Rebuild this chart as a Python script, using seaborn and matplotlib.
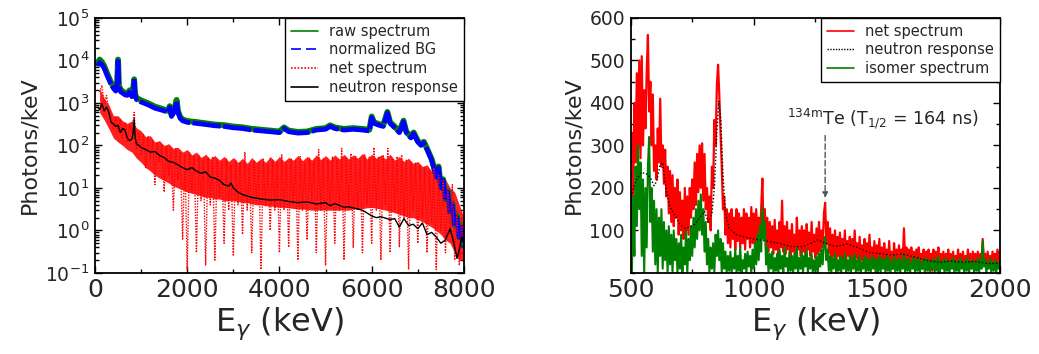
import numpy as np
import matplotlib
matplotlib.use("Agg")
import matplotlib.pyplot as plt
from matplotlib.lines import Line2D
from matplotlib.ticker import MultipleLocator, LogLocator, NullFormatter
import seaborn as sns

# ---- left panel: full spectrum (log scale) ----
bg_e = [60, 100, 150, 200, 250, 300, 350, 400, 450, 480,
        500, 520, 560, 600, 650, 700, 750, 800, 830, 850,
        870, 900, 1000, 1100, 1200, 1300, 1400, 1500, 1580, 1620,
        1660, 1720, 1770, 1800, 1850, 1900, 2000, 2200, 2400, 2600,
        2800, 3000, 3200, 3400, 3600, 3800, 4000, 4100, 4200, 4400,
        4600, 4800, 5000, 5100, 5200, 5400, 5600, 5800, 5950, 6000,
        6050, 6150, 6250, 6340, 6400, 6500, 6600, 6690, 6750, 6850,
        6910, 7000, 7070, 7130, 7200, 7300, 7400, 7450, 7500, 7550,
        7600, 7650, 7700, 7750, 7800, 7850, 7900, 7950, 8000]
bg_l = [7500, 9000, 8000, 6500, 4800, 3600, 2700, 2200, 1900, 2600,
        9500, 2300, 1800, 1700, 1550, 1500, 1800, 1400, 2000, 3300,
        1500, 1200, 1050, 950, 850, 750, 700, 650, 600, 780,
        480, 620, 1100, 600, 430, 380, 350, 330, 310, 290,
        280, 260, 250, 230, 220, 210, 200, 250, 210, 195,
        200, 230, 240, 280, 250, 230, 240, 230, 220, 450,
        330, 300, 280, 580, 330, 260, 200, 360, 200, 150,
        190, 120, 100, 115, 80, 45, 18, 30, 10, 15,
        5, 8, 2.5, 4, 1.2, 2, 0.6, 1.2, 0.4]
raw_l = [8500, 10500, 9200, 7400, 5400, 4000, 3000, 2450, 2100, 2850,
         10500, 2550, 2000, 1880, 1700, 1650, 1980, 1540, 2200, 3600,
         1650, 1320, 1150, 1040, 930, 820, 760, 700, 650, 840,
         520, 670, 1180, 650, 460, 410, 375, 355, 332, 310,
         300, 278, 267, 246, 235, 224, 213, 266, 224, 208,
         213, 245, 256, 298, 266, 245, 256, 245, 234, 480,
         352, 320, 298, 615, 352, 277, 213, 383, 213, 160,
         202, 128, 107, 122, 85, 48, 19.5, 32, 11, 16,
         5.5, 8.6, 2.8, 4.3, 1.35, 2.2, 0.7, 1.3, 0.45]

# net spectrum: channel values (with the deep dips) ...
net_e = np.arange(100, 8001, 50)
net_l = [1800, 2600, 900, 1500, 700, 500, 250, 450, 200, 400,
         150, 350, 120, 300, 200, 600, 80, 200, 60, 180,
         30, 160, 50, 130, 12, 120, 40, 100, 8, 90,
         20, 80, 3, 90, 15, 70, 0.6, 60, 0.12, 70,
         8, 55, 0.3, 60, 5, 45, 0.15, 50, 4, 55,
         0.2, 45, 6, 40, 0.5, 50, 3, 35, 0.25, 45,
         4, 40, 0.8, 70, 3, 35, 0.3, 45, 5, 40,
         0.12, 50, 4, 35, 1, 45, 3, 40, 0.3, 60,
         3, 40, 0.4, 50, 4, 45, 0.2, 55, 3, 40,
         0.6, 50, 5, 45, 0.3, 80, 3, 50, 0.15, 45,
         4, 55, 0.5, 45, 3, 85, 0.2, 50, 4, 65,
         0.4, 55, 3, 50, 0.3, 60, 4, 55, 0.5, 90,
         3, 55, 0.2, 60, 4, 85, 0.3, 50, 3, 55,
         0.4, 60, 2, 45, 0.12, 40, 3, 40, 0.5, 35,
         2, 30, 0.3, 25, 1.5, 30, 0.12, 20, 1, 15,
         0.3, 10, 0.8, 12, 0.2, 3, 0.15, 2, 0.4]
# ... and the dense band it fills (upper / lower envelope)
band_e = np.arange(100, 8001, 100)
band_hi = [2200, 1300, 900, 500, 500, 380, 330, 380, 260, 220,
           160, 170, 120, 130, 100, 110, 85, 90, 70, 80,
           60, 70, 52, 62, 48, 58, 45, 55, 42, 52,
           40, 50, 38, 52, 40, 50, 40, 55, 42, 55,
           42, 52, 45, 58, 44, 55, 45, 60, 46, 58,
           45, 60, 48, 62, 48, 60, 50, 65, 48, 62,
           50, 60, 48, 62, 45, 55, 42, 50, 38, 42,
           32, 35, 25, 28, 18, 16, 10, 8, 4, 2]
band_lo = [600, 400, 250, 150, 120, 100, 80, 70, 50, 40,
           30, 25, 20, 17, 15, 13, 11, 10, 9, 8,
           7.5, 7, 6.5, 6, 6, 5.5, 5.5, 5, 5, 5,
           4.8, 4.5, 4.5, 4.2, 4, 4, 3.8, 3.8, 3.6, 3.5,
           3.5, 3.4, 3.3, 3.2, 3.2, 3.1, 3, 3, 3, 3,
           3, 3, 3, 3, 3, 3.2, 3.2, 3.3, 3.4, 3.5,
           3.3, 3.2, 3, 2.8, 2.6, 2.4, 2.2, 2, 2, 1.8,
           1.6, 1.4, 1.2, 1.0, 0.8, 0.6, 0.5, 0.3, 0.2, 0.2]

resp_l_e = [60, 100, 150, 200, 250, 300, 350, 400, 450, 500,
            550, 600, 650, 700, 750, 800, 830, 850, 870, 900,
            1000, 1100, 1200, 1300, 1400, 1500, 1600, 1700, 1800, 1900,
            2000, 2100, 2200, 2300, 2400, 2500, 2600, 2700, 2800, 2900,
            2950, 3000, 3100, 3200, 3400, 3600, 3800, 4000, 4200, 4400,
            4600, 4800, 5000, 5100, 5200, 5400, 5500, 5600, 5800, 6000,
            6100, 6200, 6400, 6500, 6600, 6700, 6800, 6900, 7000, 7100,
            7200, 7300, 7400, 7500, 7600, 7700, 7750, 7800, 7850, 7900,
            7950, 8000]
resp_l = [800, 700, 950, 650, 800, 600, 350, 320, 280, 300,
          200, 250, 230, 150, 130, 140, 200, 420, 150, 110,
          90, 80, 70, 72, 58, 52, 42, 40, 35, 30,
          27, 30, 25, 22, 24, 18, 17, 15, 12, 11,
          13, 10, 8, 7, 6, 5.5, 5.2, 5.3, 4.8, 4.5,
          4.7, 4.2, 4.5, 3.8, 4.3, 3.5, 3.6, 3.4, 3.0, 2.2,
          2.0, 2.1, 1.8, 1.9, 1.2, 1.9, 1.3, 1.4, 1.1, 1.5,
          0.8, 0.9, 0.7, 0.5, 0.6, 1.1, 0.7, 0.4, 0.22, 0.35,
          0.7, 0.5]

# ---- right panel: 500-2000 keV (linear), 5 keV channels ----
zoom_e = np.arange(500, 2001, 5)
net_r = [120, 330, 180, 400, 260, 470, 290, 500, 270, 510, 300, 430, 340, 470, 560, 380, 450, 300, 420, 240,
         300, 220, 340, 260, 410, 250, 300, 210, 290, 180, 250, 140, 240, 120, 230, 110, 200, 130, 220, 90,
         190, 100, 170, 80, 200, 100, 180, 90, 200, 130, 220, 150, 260, 160, 280, 190, 300, 200, 305, 170,
         280, 150, 200, 120, 180, 100, 250, 200, 360, 300, 440, 490, 420, 330, 250, 150, 180, 90, 150, 70,
         140, 60, 150, 80, 130, 55, 150, 75, 140, 60, 130, 70, 150, 55, 140, 80, 130, 60, 155, 70,
         140, 60, 150, 75, 130, 60, 150, 222, 90, 150, 60, 130, 50, 120, 60, 110, 45, 125, 55, 100,
         40, 120, 60, 170, 50, 110, 45, 120, 55, 100, 40, 115, 50, 90, 35, 130, 55, 100, 40, 110,
         50, 100, 35, 115, 55, 95, 40, 120, 50, 90, 35, 105, 45, 120, 50, 100, 60, 140, 165, 70,
         120, 45, 105, 35, 90, 40, 100, 30, 85, 40, 95, 30, 80, 35, 100, 30, 75, 40, 85, 25,
         80, 30, 100, 35, 70, 25, 85, 30, 65, 20, 80, 35, 70, 25, 90, 30, 60, 20, 75, 30,
         65, 20, 80, 25, 60, 15, 70, 30, 55, 20, 75, 25, 50, 10, 70, 25, 55, 20, 65, 15,
         55, 20, 105, 30, 60, 15, 55, 10, 60, 20, 50, 15, 55, 10, 60, 20, 45, 10, 55, 20,
         50, 10, 55, 20, 45, 5, 55, 15, 50, 20, 60, 10, 45, 15, 50, 10, 45, 20, 55, 10,
         45, 15, 50, 10, 40, 20, 55, 10, 45, 15, 50, 10, 40, 20, 55, 10, 45, 15, 50, 20,
         45, 10, 50, 15, 45, 20, 80, 25, 45, 10, 50, 15, 40, 20, 50, 15, 45, 25, 55, 20,
         45]
iso_r = [160, 0, 180, 40, 250, 110, 300, 150, 260, 40, 220, 0, 200, 60, 250, 320, 120, 200, 50, 170,
         20, 150, 0, 130, 40, 150, 10, 120, 30, 100, 0, 110, 20, 90, 0, 100, 30, 80, 0, 70,
         10, 90, 0, 60, 20, 100, 0, 80, 30, 110, 40, 130, 60, 150, 80, 170, 100, 185, 90, 150,
         50, 120, 20, 80, 0, 60, 10, 70, 0, 90, 40, 100, 30, 80, 0, 70, 10, 50, 0, 40,
         5, 50, 0, 35, 10, 55, 0, 40, 5, 60, 0, 30, 10, 45, 0, 50, 15, 40, 0, 55,
         10, 70, 20, 90, 30, 110, 50, 155, 80, 120, 20, 60, 0, 45, 10, 50, 0, 35, 5, 45,
         0, 55, 10, 40, 0, 60, 15, 35, 0, 50, 5, 40, 0, 45, 10, 60, 0, 35, 10, 50,
         0, 40, 15, 55, 0, 35, 10, 45, 0, 30, 5, 40, 0, 45, 15, 55, 20, 70, 85, 30,
         55, 5, 40, 0, 35, 10, 45, 0, 30, 5, 40, 0, 35, 10, 45, 0, 30, 5, 40, 0,
         35, 10, 45, 0, 30, 5, 40, 0, 25, 10, 40, 0, 35, 5, 30, 0, 40, 10, 35, 0,
         30, 5, 40, 0, 35, 10, 30, 0, 40, 5, 35, 0, 25, 10, 40, 0, 30, 5, 35, 0,
         30, 10, 45, 0, 30, 5, 35, 0, 25, 10, 40, 0, 30, 5, 35, 0, 25, 10, 30, 0,
         35, 5, 30, 0, 25, 10, 35, 0, 30, 5, 40, 0, 25, 10, 30, 0, 35, 5, 25, 0,
         30, 10, 35, 0, 25, 5, 30, 0, 35, 10, 25, 0, 30, 5, 35, 0, 25, 10, 30, 0,
         25, 5, 35, 0, 30, 10, 75, 15, 30, 0, 25, 10, 35, 0, 25, 5, 30, 0, 25, 10,
         20]
resp_r_e = [500, 510, 520, 540, 560, 580, 595, 605, 620, 630,
            645, 660, 680, 700, 720, 740, 760, 780, 800, 815,
            830, 840, 850, 858, 866, 875, 885, 900, 930, 960,
            1000, 1050, 1100, 1150, 1200, 1240, 1260, 1290, 1330, 1380,
            1420, 1470, 1520, 1560, 1600, 1650, 1700, 1750, 1800, 1850,
            1900, 1950, 2000]
resp_r = [180, 195, 215, 235, 235, 225, 205, 215, 255, 260,
          190, 155, 135, 115, 105, 108, 115, 130, 145, 120,
          140, 200, 330, 405, 360, 230, 140, 105, 90, 85,
          80, 75, 70, 62, 62, 72, 78, 70, 62, 68,
          60, 48, 45, 42, 45, 38, 30, 25, 28, 25,
          27, 22, 23]

GREEN = "#008000"
BLUE = "#0000ff"
RED = "#ff0000"

sns.set_style("ticks")
plt.rcParams["font.family"] = ["DejaVu Sans"]
plt.rcParams["axes.linewidth"] = 1.3

fig = plt.figure(figsize=(10.39, 3.54), dpi=100)
ax1 = fig.add_axes([0.0914, 0.229, 0.3551, 0.7203])
ax2 = fig.add_axes([0.607, 0.229, 0.3554, 0.7203])

# left panel
sns.lineplot(x=bg_e, y=raw_l, ax=ax1, color=GREEN, lw=4.2, estimator=None, sort=False)
sns.lineplot(x=bg_e, y=bg_l, ax=ax1, color=BLUE, lw=3.4, estimator=None, sort=False,
             linestyle=(0, (6, 0.5)))
ax1.fill_between(band_e, band_lo, band_hi, color=RED, alpha=0.88, lw=0)
sns.lineplot(x=net_e, y=net_l, ax=ax1, color=RED, lw=1.0, estimator=None, sort=False,
             linestyle=(0, (1, 1)))
sns.lineplot(x=resp_l_e, y=resp_l, ax=ax1, color="black", lw=1.0, estimator=None, sort=False)

ax1.set_yscale("log")
ax1.set_xlim(0, 8000)
ax1.set_ylim(0.1, 1e5)
ax1.xaxis.set_major_locator(MultipleLocator(2000))
ax1.xaxis.set_minor_locator(MultipleLocator(1000))
ax1.yaxis.set_major_locator(LogLocator(base=10, numticks=10))
ax1.yaxis.set_minor_locator(LogLocator(base=10, subs=np.arange(2, 10), numticks=20))
ax1.yaxis.set_minor_formatter(NullFormatter())
ax1.set_xlabel(r"E$_\gamma$ (keV)", fontsize=23, labelpad=2)
ax1.set_ylabel("Photons/keV", fontsize=16, labelpad=4)

h1 = [Line2D([], [], color=GREEN, lw=1.2),
      Line2D([], [], color=BLUE, lw=1.2, ls=(0, (6, 3))),
      Line2D([], [], color=RED, lw=1.2, ls=(0, (1, 1))),
      Line2D([], [], color="black", lw=1.2)]
leg1 = ax1.legend(h1, ["raw spectrum", "normalized BG", "net spectrum", "neutron response"],
                  loc="upper right", fontsize=10.5, borderaxespad=0, fancybox=False,
                  framealpha=1, edgecolor="black", handlelength=1.8, labelspacing=0.25,
                  borderpad=0.4)
leg1.get_frame().set_linewidth(1.0)

# right panel
sns.lineplot(x=zoom_e, y=net_r, ax=ax2, color=RED, lw=1.6, estimator=None, sort=False)
sns.lineplot(x=zoom_e, y=iso_r, ax=ax2, color=GREEN, lw=1.5, estimator=None, sort=False)
sns.lineplot(x=resp_r_e, y=resp_r, ax=ax2, color="black", lw=1.0, estimator=None, sort=False,
             linestyle=(0, (1, 1.5)))

ax2.set_xlim(500, 2000)
ax2.set_ylim(0, 600)
ax2.set_xticks([500, 1000, 1500, 2000])
ax2.xaxis.set_minor_locator(MultipleLocator(250))
ax2.set_yticks([100, 200, 300, 400, 500, 600])
ax2.yaxis.set_minor_locator(MultipleLocator(50))
ax2.set_xlabel(r"E$_\gamma$ (keV)", fontsize=23, labelpad=2)
ax2.set_ylabel("Photons/keV", fontsize=16, labelpad=4)

ax2.text(1135, 362, r"$^{\mathrm{134m}}$Te (T$_{\mathrm{1/2}}$ = 164 ns)", fontsize=12.5,
         ha="left", va="center")
ax2.annotate("", xy=(1290, 170), xytext=(1290, 330),
             arrowprops=dict(arrowstyle="-|>", color="#555555", lw=1.0, linestyle=(0, (4, 2)),
                             mutation_scale=8))

h2 = [Line2D([], [], color=RED, lw=1.2),
      Line2D([], [], color="black", lw=1.0, ls=(0, (1, 1))),
      Line2D([], [], color=GREEN, lw=1.2)]
leg2 = ax2.legend(h2, ["net spectrum", "neutron response", "isomer spectrum"],
                  loc="upper right", fontsize=10.5, borderaxespad=0, fancybox=False,
                  framealpha=1, edgecolor="black", handlelength=1.8, labelspacing=0.25,
                  borderpad=0.4)
leg2.get_frame().set_linewidth(1.0)

for ax in (ax1, ax2):
    ax.tick_params(which="both", direction="in", top=True, right=True, width=1.0, color="black")
    ax.tick_params(which="major", length=5)
    ax.tick_params(which="minor", length=3)
    ax.tick_params(axis="x", labelsize=18, pad=4)
    ax.tick_params(axis="y", labelsize=13.5, pad=4)
    for s in ax.spines.values():
        s.set_color("black")

fig.savefig("out.png", dpi=100)
